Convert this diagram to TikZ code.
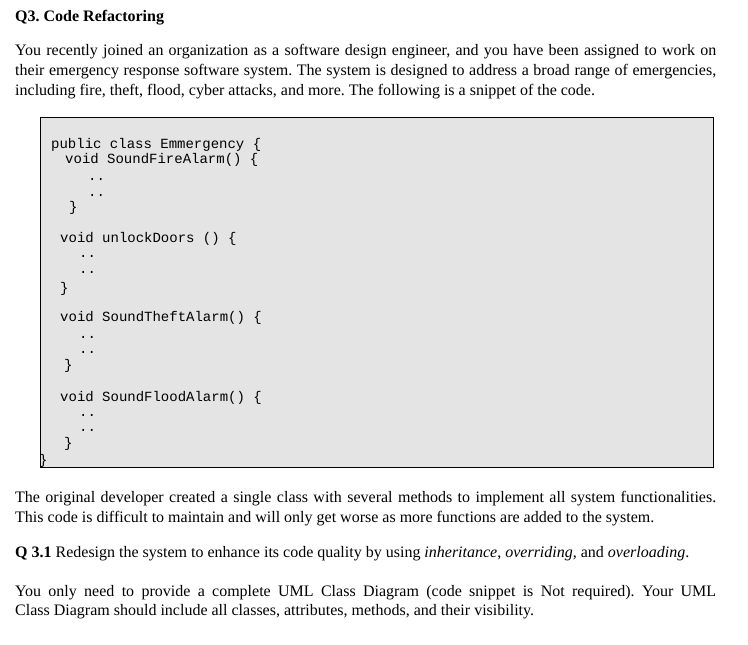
\documentclass[tikz,border=0pt]{standalone}
\usepackage{fontspec}
\setmainfont{Liberation Serif}
\setmonofont{Liberation Mono}
\begin{document}
\frenchspacing
\begin{tikzpicture}[x=1pt,y=-1pt,
  t/.style={anchor=base west,inner sep=0,font=\fontsize{16}{18}\selectfont},
  c/.style={anchor=base west,inner sep=0,font=\ttfamily\fontsize{14}{15}\selectfont}]
\useasboundingbox (0,0) rectangle (748,645);
\fill[white] (0,0) rectangle (748,645);
\node[t,font=\bfseries\fontsize{16}{18}\selectfont] (title) at (15,21) {Q3. Code Refactoring};
\node[t] (p1) at (15,55) {\makebox[701pt][s]{You recently joined an organization as a software design engineer, and you have been assigned to work on}};
\node[t] (p2) at (15,75) {\makebox[701pt][s]{their emergency response software system. The system is designed to address a broad range of emergencies,}};
\node[t] (p3) at (15,95) {including fire, theft, flood, cyber attacks, and more. The following is a snippet of the code.};
\draw[fill={rgb,255:red,228;green,228;blue,228},line width=1pt] (40,117) rectangle (713,467);
\node[c] (l1) at (51,148) {public class Emmergency \{};
\node[c] (l2) at (65,163) {void SoundFireAlarm() \{};
\node[c] (l3) at (88,180) {..};
\node[c] (l4) at (88,196) {..};
\node[c] (l5) at (69,211) {\}};
\node[c] (l6) at (60,242) {void unlockDoors () \{};
\node[c] (l7) at (79,257) {..};
\node[c] (l8) at (79,273) {..};
\node[c] (l9) at (60,292) {\}};
\node[c] (l10) at (60,321) {void SoundTheftAlarm() \{};
\node[c] (l11) at (79,338) {..};
\node[c] (l12) at (79,353) {..};
\node[c] (l13) at (64,369) {\}};
\node[c] (l14) at (60,401) {void SoundFloodAlarm() \{};
\node[c] (l15) at (79,416) {..};
\node[c] (l16) at (79,431) {..};
\node[c] (l17) at (64,447) {\}};
\node[c] (l18) at (39,464) {\}};
\node[t] (q1) at (15,502) {\makebox[701pt][s]{The original developer created a single class with several methods to implement all system functionalities.}};
\node[t] (q2) at (15,522) {This code is difficult to maintain and will only get worse as more functions are added to the system.};
\node[t] (q3) at (15,557) {\textbf{Q 3.1} Redesign the system to enhance its code quality by using \textit{inheritance}, \textit{overriding}, and \textit{overloading}.};
\node[t] (q4) at (15,596) {\makebox[701pt][s]{You only need to provide a complete UML Class Diagram (code snippet is Not required). Your UML}};
\node[t] (q5) at (15,615) {Class Diagram should include all classes, attributes, methods, and their visibility.};
\end{tikzpicture}
\end{document}
